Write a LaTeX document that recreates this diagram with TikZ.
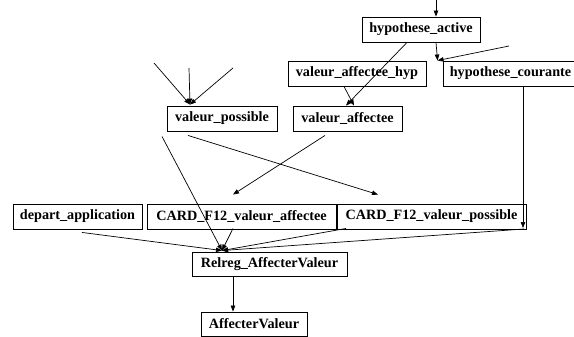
\documentclass[tikz,border=0pt]{standalone}
\usepackage{fontspec}
\setmainfont{Liberation Serif}
\usetikzlibrary{arrows.meta}
\begin{document}
\begin{tikzpicture}[x=1pt,y=-1pt,
  box/.style={draw=black,line width=0.9pt,inner sep=0pt,minimum height=25pt,
    font=\fontsize{14.2}{16}\selectfont\bfseries},
  conn/.style={draw=black,line width=0.7pt},
  arr/.style={conn,-{Triangle[length=6pt,width=4.5pt]}}]
\useasboundingbox (0,0) rectangle (574,337);
\begin{scope}
\clip (0,0) rectangle (574,337);
\node[box,minimum width=118pt] (ha) at (421,29.5) {hypothese\_active};
\node[box,minimum width=138pt] (vah) at (357,73.5) {valeur\_affectee\_hyp};
\node[box,minimum width=135pt] (hc) at (510.5,73.5) {hypothese\_courante};
\node[box,minimum width=110pt] (vp) at (222,118.5) {valeur\_possible};
\node[box,minimum width=109pt] (va) at (347.5,118.5) {valeur\_affectee};
\node[box,minimum width=129pt] (da) at (77.5,216.5) {depart\_application};
\node[box,minimum width=189pt] (cfa) at (241.5,216.5) {CARD\_F12\_valeur\_affectee};
\node[box,minimum width=189pt] (cfp) at (431.5,216.5) {CARD\_F12\_valeur\_possible};
\node[box,minimum width=155pt,minimum height=24pt] (rr) at (269.5,264) {Relreg\_AffecterValeur};
\node[box,minimum width=106pt,minimum height=24pt] (av) at (254,324) {AffecterValeur};
\end{scope}
% free ends
\coordinate (top1) at (436,0);
\coordinate (hcin) at (509,46);
\coordinate (f1) at (154,63);
\coordinate (f2) at (189,68);
\coordinate (f3) at (233,68);
\coordinate (bend) at (523,228);
% connectors
\draw[arr] (top1) -- ([xshift=15pt]ha.north);
\draw[arr] ([xshift=-14pt]ha.south) -- ([xshift=-1.5pt]va.north);
\draw[arr] ([xshift=-13pt]vah.south) -- ([xshift=-3pt]vah.south |- va.north);
\draw[arr] ([xshift=15pt]ha.south) -- ([xshift=-5pt]hc.north west);
\draw[arr] (hcin) -- ([xshift=-5pt]hc.north west);
\draw[arr] (f1) -- ([xshift=-32pt,yshift=1pt]vp.north);
\draw[arr] (f2) -- ([xshift=-32pt,yshift=1pt]vp.north);
\draw[arr] (f3) -- ([xshift=-32pt,yshift=1pt]vp.north);
\draw[arr] ([xshift=-34pt,yshift=-4pt]vp.south) -- ([xshift=-53.5pt,yshift=9pt]cfp.north);
\draw[arr] ([xshift=-22.5pt,yshift=-4pt]va.south) -- ([xshift=-8.5pt,yshift=9pt]cfa.north);
\draw[arr] ([xshift=-60pt,yshift=-5pt]vp.south) -- ([xshift=-47.5pt,yshift=1pt]rr.north);
\draw[arr] ([xshift=4.5pt,yshift=-3pt]da.south) -- ([xshift=-47.5pt,yshift=1pt]rr.north);
\draw[arr] ([xshift=-8.5pt,yshift=1pt]cfa.south) -- ([xshift=-47.5pt,yshift=1pt]rr.north);
\draw[arr] ([xshift=-85.5pt,yshift=1pt]cfp.south) -- ([xshift=-47.5pt,yshift=1pt]rr.north);
\draw[arr] ([xshift=12.5pt]hc.south) -- (bend);
\draw[arr] ([xshift=1pt,yshift=-1pt]bend) -- ([xshift=-47.5pt,yshift=1pt]rr.north);
\draw[arr] ([xshift=-36.5pt]rr.south) -- ([xshift=-21pt]av.north);
\end{tikzpicture}
\end{document}
